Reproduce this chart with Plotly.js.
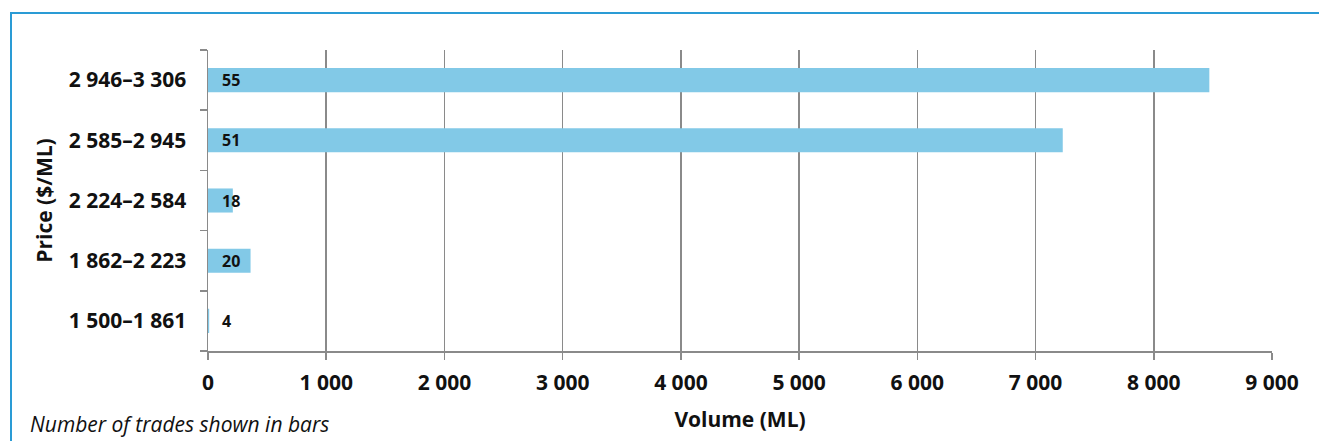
<!DOCTYPE html>
<html><head><meta charset="utf-8">
<script src="https://cdn.plot.ly/plotly-3.0.1.min.js"></script>
<style>
html,body{margin:0;padding:0;background:#fff;}
#wrap{position:relative;width:1319px;height:441px;overflow:hidden;}
#chart{position:absolute;left:0;top:0;width:1319px;height:441px;}
#frame{position:absolute;left:10px;top:12px;width:1320px;height:440px;border-left:2px solid #2A9BD5;border-top:2px solid #2A9BD5;pointer-events:none;}
</style></head>
<body><div id="wrap"><div id="chart"></div><div id="frame"></div></div>
<script>
const categories = ["1 500–1 861", "1 862–2 223", "2 224–2 584", "2 585–2 945", "2 946–3 306"];
const volumes = [10, 360, 210, 7230, 8470];
const trades = [4, 20, 18, 51, 55];
const xTicks = [0, 1000, 2000, 3000, 4000, 5000, 6000, 7000, 8000, 9000];

const font = "'Open Sans', sans-serif";

const annotations = categories.map((c, i) => ({
  x: 0, y: c, xref: 'x', yref: 'y', text: '<b>' + trades[i] + '</b>',
  showarrow: false, xanchor: 'left', xshift: 12,
  font: {family: font, size: 16, color: '#111'}
}));
annotations.push({
  xref: 'paper', yref: 'paper', x: -0.169, y: -0.243, xanchor: 'left', yanchor: 'middle',
  text: '<i>Number of trades shown in bars</i>', showarrow: false,
  font: {family: font, size: 21, color: '#111'}
});

Plotly.newPlot('chart', [{
  type: 'bar', orientation: 'h', y: categories, x: volumes,
  marker: {color: '#82C9E7', line: {width: 0}}, hoverinfo: 'none'
}], {
  width: 1319, height: 441,
  margin: {l: 208, r: 47, t: 50, b: 90},
  paper_bgcolor: '#fff', plot_bgcolor: '#fff',
  separators: '. ',
  bargap: 0.6,
  showlegend: false,
  font: {family: font, color: '#111'},
  xaxis: {
    range: [0, 9000], tickvals: xTicks, tickformat: ',d',
    showgrid: true, gridcolor: '#8a8a8a', gridwidth: 1.5,
    zeroline: false, showline: true, linecolor: '#8a8a8a', linewidth: 1.5,
    ticks: 'outside', ticklen: 7, tickcolor: '#8a8a8a', tickwidth: 1.5,
    ticklabelstandoff: 5,
    tickfont: {family: font, size: 21, color: '#111', weight: 'bold'},
    title: {text: '<b>Volume (ML)</b>', font: {family: font, size: 21, color: '#111'}, standoff: 17}
  },
  yaxis: {
    type: 'category', categoryorder: 'array', categoryarray: categories,
    showgrid: false, zeroline: false, showline: true, linecolor: '#8a8a8a', linewidth: 1.5,
    ticks: 'outside', tickson: 'boundaries', ticklen: 7, tickcolor: '#8a8a8a', tickwidth: 1.5,
    ticklabelstandoff: 16,
    tickfont: {family: font, size: 21, color: '#111', weight: 'bold'},
    title: {text: '<b>Price ($/ML)</b>', font: {family: font, size: 21, color: '#111'}, standoff: 10}
  },
  annotations: annotations
}, {staticPlot: true});
</script></body></html>
